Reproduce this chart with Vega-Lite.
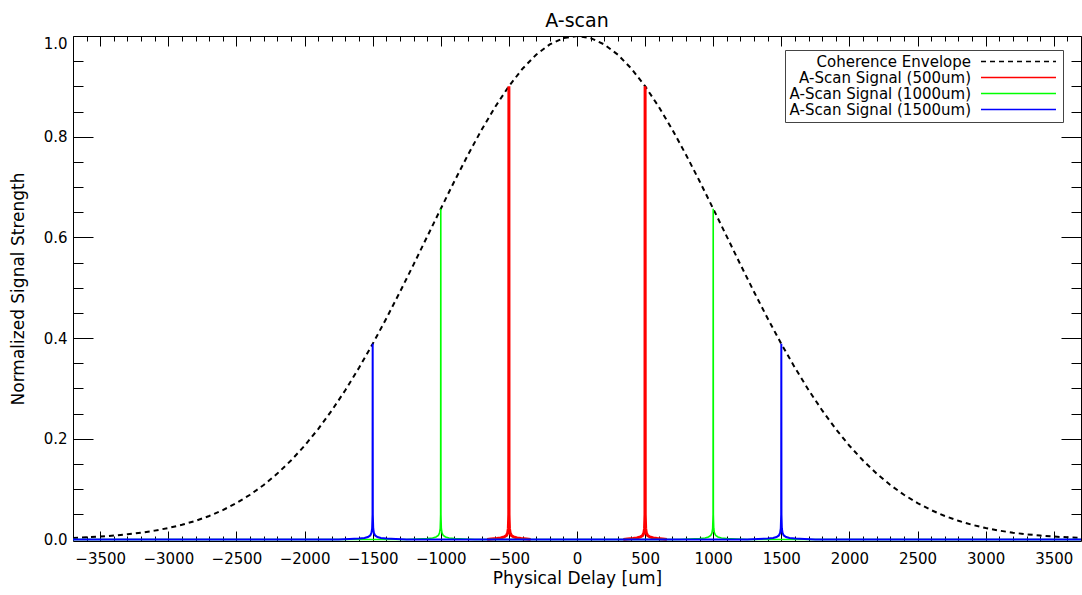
{
  "$schema": "https://vega.github.io/schema/vega-lite/v6.json",
  "width": 1008,
  "height": 505,
  "autosize": "none",
  "padding": {"left": 73, "top": 36, "right": 1, "bottom": 54},
  "background": "white",
  "title": {"text": "A-scan", "fontSize": 19, "font": "DejaVu Sans", "fontWeight": "normal", "color": "black", "anchor": "middle", "offset": 5},
  "config": {
    "view": {"stroke": null},
    "axis": {"domainColor": "black", "tickColor": "black", "labelColor": "black", "titleColor": "black", "labelFont": "DejaVu Sans", "titleFont": "DejaVu Sans", "titleFontWeight": "normal", "labelFontSize": 15, "titleFontSize": 17, "grid": false, "tickWidth": 1, "domainWidth": 1}
  },
  "datasets": {
    "envelope": [
      {"x": -3700, "y": 0.0032}, {"x": -3600, "y": 0.0043}, {"x": -3500, "y": 0.0058}, {"x": -3400, "y": 0.0078}, {"x": -3300, "y": 0.0103},
      {"x": -3200, "y": 0.0135}, {"x": -3100, "y": 0.0176}, {"x": -3000, "y": 0.0228}, {"x": -2900, "y": 0.0292}, {"x": -2800, "y": 0.0371},
      {"x": -2700, "y": 0.0467}, {"x": -2600, "y": 0.0584}, {"x": -2500, "y": 0.0724}, {"x": -2400, "y": 0.0889}, {"x": -2300, "y": 0.1083},
      {"x": -2200, "y": 0.1309}, {"x": -2100, "y": 0.1568}, {"x": -2000, "y": 0.1862}, {"x": -1900, "y": 0.2194}, {"x": -1800, "y": 0.2563},
      {"x": -1700, "y": 0.2969}, {"x": -1600, "y": 0.3411}, {"x": -1500, "y": 0.3885}, {"x": -1400, "y": 0.4389}, {"x": -1300, "y": 0.4916},
      {"x": -1200, "y": 0.546}, {"x": -1100, "y": 0.6015}, {"x": -1000, "y": 0.6569}, {"x": -900, "y": 0.7116}, {"x": -800, "y": 0.7642},
      {"x": -700, "y": 0.8139}, {"x": -600, "y": 0.8596}, {"x": -500, "y": 0.9003}, {"x": -400, "y": 0.935}, {"x": -300, "y": 0.9629},
      {"x": -200, "y": 0.9833}, {"x": -100, "y": 0.9958}, {"x": 0, "y": 1.0}, {"x": 100, "y": 0.9958}, {"x": 200, "y": 0.9833},
      {"x": 300, "y": 0.9629}, {"x": 400, "y": 0.935}, {"x": 500, "y": 0.9003}, {"x": 600, "y": 0.8596}, {"x": 700, "y": 0.8139},
      {"x": 800, "y": 0.7642}, {"x": 900, "y": 0.7116}, {"x": 1000, "y": 0.6569}, {"x": 1100, "y": 0.6015}, {"x": 1200, "y": 0.546},
      {"x": 1300, "y": 0.4916}, {"x": 1400, "y": 0.4389}, {"x": 1500, "y": 0.3885}, {"x": 1600, "y": 0.3411}, {"x": 1700, "y": 0.2969},
      {"x": 1800, "y": 0.2563}, {"x": 1900, "y": 0.2194}, {"x": 2000, "y": 0.1862}, {"x": 2100, "y": 0.1568}, {"x": 2200, "y": 0.1309},
      {"x": 2300, "y": 0.1083}, {"x": 2400, "y": 0.0889}, {"x": 2500, "y": 0.0724}, {"x": 2600, "y": 0.0584}, {"x": 2700, "y": 0.0467},
      {"x": 2800, "y": 0.0371}, {"x": 2900, "y": 0.0292}, {"x": 3000, "y": 0.0228}, {"x": 3100, "y": 0.0176}, {"x": 3200, "y": 0.0135},
      {"x": 3300, "y": 0.0103}, {"x": 3400, "y": 0.0078}, {"x": 3500, "y": 0.0058}, {"x": 3600, "y": 0.0043}, {"x": 3700, "y": 0.0032}
    ],
    "s500": [
      {"x": -660, "y": 0, "p": "L"}, {"x": -630, "y": 0.001, "p": "L"}, {"x": -590, "y": 0.002, "p": "L"}, {"x": -560, "y": 0.003, "p": "L"}, {"x": -535, "y": 0.005, "p": "L"},
      {"x": -518, "y": 0.008, "p": "L"}, {"x": -509, "y": 0.013, "p": "L"}, {"x": -504, "y": 0.022, "p": "L"}, {"x": -502, "y": 0.04, "p": "L"}, {"x": -501, "y": 0.05, "p": "L"},
      {"x": -500, "y": 0.9, "p": "L"},
      {"x": -499, "y": 0.05, "p": "L"}, {"x": -498, "y": 0.04, "p": "L"}, {"x": -496, "y": 0.022, "p": "L"}, {"x": -491, "y": 0.013, "p": "L"}, {"x": -482, "y": 0.008, "p": "L"},
      {"x": -465, "y": 0.005, "p": "L"}, {"x": -440, "y": 0.003, "p": "L"}, {"x": -410, "y": 0.002, "p": "L"}, {"x": -370, "y": 0.001, "p": "L"}, {"x": -340, "y": 0, "p": "L"},
      {"x": 340, "y": 0, "p": "R"}, {"x": 370, "y": 0.001, "p": "R"}, {"x": 410, "y": 0.002, "p": "R"}, {"x": 440, "y": 0.003, "p": "R"}, {"x": 465, "y": 0.005, "p": "R"},
      {"x": 482, "y": 0.008, "p": "R"}, {"x": 491, "y": 0.013, "p": "R"}, {"x": 496, "y": 0.022, "p": "R"}, {"x": 498, "y": 0.04, "p": "R"}, {"x": 499, "y": 0.05, "p": "R"},
      {"x": 500, "y": 0.9, "p": "R"},
      {"x": 501, "y": 0.05, "p": "R"}, {"x": 502, "y": 0.04, "p": "R"}, {"x": 504, "y": 0.022, "p": "R"}, {"x": 509, "y": 0.013, "p": "R"}, {"x": 518, "y": 0.008, "p": "R"},
      {"x": 535, "y": 0.005, "p": "R"}, {"x": 560, "y": 0.003, "p": "R"}, {"x": 590, "y": 0.002, "p": "R"}, {"x": 630, "y": 0.001, "p": "R"}, {"x": 660, "y": 0, "p": "R"}
    ],
    "s1000": [
      {"x": -3700, "y": 0}, {"x": -1250, "y": 0}, {"x": -1170, "y": 0.001}, {"x": -1100, "y": 0.002}, {"x": -1060, "y": 0.003}, {"x": -1035, "y": 0.005},
      {"x": -1018, "y": 0.008}, {"x": -1009, "y": 0.013}, {"x": -1004, "y": 0.022}, {"x": -1002, "y": 0.04}, {"x": -1001, "y": 0.05},
      {"x": -1000, "y": 0.657},
      {"x": -999, "y": 0.05}, {"x": -998, "y": 0.04}, {"x": -996, "y": 0.022}, {"x": -991, "y": 0.013}, {"x": -982, "y": 0.008},
      {"x": -965, "y": 0.005}, {"x": -940, "y": 0.003}, {"x": -900, "y": 0.002}, {"x": -830, "y": 0.001}, {"x": -750, "y": 0},
      {"x": 750, "y": 0}, {"x": 830, "y": 0.001}, {"x": 900, "y": 0.002}, {"x": 940, "y": 0.003}, {"x": 965, "y": 0.005},
      {"x": 982, "y": 0.008}, {"x": 991, "y": 0.013}, {"x": 996, "y": 0.022}, {"x": 998, "y": 0.04}, {"x": 999, "y": 0.05},
      {"x": 1000, "y": 0.657},
      {"x": 1001, "y": 0.05}, {"x": 1002, "y": 0.04}, {"x": 1004, "y": 0.022}, {"x": 1009, "y": 0.013}, {"x": 1018, "y": 0.008},
      {"x": 1035, "y": 0.005}, {"x": 1060, "y": 0.003}, {"x": 1100, "y": 0.002}, {"x": 1170, "y": 0.001}, {"x": 1250, "y": 0}, {"x": 3700, "y": 0}
    ],
    "s1500": [
      {"x": -3700, "y": 0}, {"x": -1750, "y": 0}, {"x": -1670, "y": 0.001}, {"x": -1600, "y": 0.002}, {"x": -1560, "y": 0.003}, {"x": -1535, "y": 0.005},
      {"x": -1518, "y": 0.008}, {"x": -1509, "y": 0.013}, {"x": -1504, "y": 0.022}, {"x": -1502, "y": 0.04}, {"x": -1501, "y": 0.05},
      {"x": -1500, "y": 0.389},
      {"x": -1499, "y": 0.05}, {"x": -1498, "y": 0.04}, {"x": -1496, "y": 0.022}, {"x": -1491, "y": 0.013}, {"x": -1482, "y": 0.008},
      {"x": -1465, "y": 0.005}, {"x": -1440, "y": 0.003}, {"x": -1400, "y": 0.002}, {"x": -1330, "y": 0.001}, {"x": -1250, "y": 0},
      {"x": 1250, "y": 0}, {"x": 1330, "y": 0.001}, {"x": 1400, "y": 0.002}, {"x": 1440, "y": 0.003}, {"x": 1465, "y": 0.005},
      {"x": 1482, "y": 0.008}, {"x": 1491, "y": 0.013}, {"x": 1496, "y": 0.022}, {"x": 1498, "y": 0.04}, {"x": 1499, "y": 0.05},
      {"x": 1500, "y": 0.389},
      {"x": 1501, "y": 0.05}, {"x": 1502, "y": 0.04}, {"x": 1504, "y": 0.022}, {"x": 1509, "y": 0.013}, {"x": 1518, "y": 0.008},
      {"x": 1535, "y": 0.005}, {"x": 1560, "y": 0.003}, {"x": 1600, "y": 0.002}, {"x": 1670, "y": 0.001}, {"x": 1750, "y": 0}, {"x": 3700, "y": 0}
    ]
  },
  "resolve": {"axis": {"x": "independent", "y": "independent"}},
  "layer": [
    {
      "data": {"name": "envelope"},
      "mark": {"type": "line", "clip": true, "strokeWidth": 2, "strokeDash": [5, 4]},
      "encoding": {
        "x": {"field": "x", "type": "quantitative", "scale": {"domain": [-3700, 3700], "nice": false, "zero": false},
          "axis": {"orient": "bottom", "values": [-3500, -3000, -2500, -2000, -1500, -1000, -500, 0, 500, 1000, 1500, 2000, 2500, 3000, 3500], "format": "d", "tickSize": -10, "labelPadding": 20, "labelFlush": false, "title": "Physical Delay [um]", "titlePadding": 4}},
        "y": {"field": "y", "type": "quantitative", "scale": {"domain": [-0.003, 1.0], "nice": false, "zero": false},
          "axis": {"orient": "left", "values": [0, 0.2, 0.4, 0.6, 0.8, 1.0], "format": ".1f", "tickSize": -20, "labelPadding": 26, "labelFlush": 1, "title": "Normalized Signal Strength", "titlePadding": 16}},
        "color": {"datum": "Coherence Envelope", "type": "nominal",
          "scale": {"domain": ["Coherence Envelope", "A-Scan Signal (500um)", "A-Scan Signal (1000um)", "A-Scan Signal (1500um)"], "range": ["black", "#ff0000", "#00ff00", "#0000ff"]},
          "legend": {"orient": "none", "legendX": 712, "legendY": 14, "title": null, "strokeColor": "#444", "fillColor": "white", "padding": 4, "symbolType": "M-7.5,0H7.5", "symbolSize": 100, "rowPadding": -2.5, "labelAlign": "right", "labelOffset": -55, "symbolOffset": 222, "symbolStrokeWidth": 1.4, "labelFont": "DejaVu Sans", "labelFontSize": 15, "labelColor": "black", "labelLimit": 0,
            "encode": {"symbols": {"update": {"stroke": {"signal": "scale('color', datum.value)"}, "fill": {"value": "transparent"}, "opacity": {"value": 1}, "strokeOpacity": {"value": 1}, "strokeDash": {"signal": "datum.value === 'Coherence Envelope' ? [5, 4] : [1, 0]"}}}}}}
      }
    },
    {
      "data": {"name": "s500"},
      "mark": {"type": "line", "clip": true, "strokeWidth": 3},
      "encoding": {
        "x": {"field": "x", "type": "quantitative", "scale": {"domain": [-3700, 3700], "nice": false, "zero": false},
          "axis": {"orient": "bottom", "values": [-3600, -3400, -3300, -3200, -3100, -2900, -2800, -2700, -2600, -2400, -2300, -2200, -2100, -1900, -1800, -1700, -1600, -1400, -1300, -1200, -1100, -900, -800, -700, -600, -400, -300, -200, -100, 100, 200, 300, 400, 600, 700, 800, 900, 1100, 1200, 1300, 1400, 1600, 1700, 1800, 1900, 2100, 2200, 2300, 2400, 2600, 2700, 2800, 2900, 3100, 3200, 3300, 3400, 3600], "tickSize": -5, "labels": false, "domain": false, "title": null}},
        "y": {"field": "y", "type": "quantitative", "scale": {"domain": [-0.003, 1.0], "nice": false, "zero": false},
          "axis": {"orient": "left", "values": [0.05, 0.1, 0.15, 0.25, 0.3, 0.35, 0.45, 0.5, 0.55, 0.65, 0.7, 0.75, 0.85, 0.9, 0.95], "tickSize": -10, "labels": false, "domain": false, "title": null}},
        "detail": {"field": "p", "type": "nominal"},
        "color": {"datum": "A-Scan Signal (500um)", "type": "nominal",
          "scale": {"domain": ["Coherence Envelope", "A-Scan Signal (500um)", "A-Scan Signal (1000um)", "A-Scan Signal (1500um)"], "range": ["black", "#ff0000", "#00ff00", "#0000ff"]}}
      }
    },
    {
      "data": {"name": "s1000"},
      "mark": {"type": "line", "clip": true, "strokeWidth": 1.6},
      "encoding": {
        "x": {"field": "x", "type": "quantitative", "scale": {"domain": [-3700, 3700], "nice": false, "zero": false},
          "axis": {"orient": "top", "values": [-3500, -3000, -2500, -2000, -1500, -1000, -500, 0, 500, 1000, 1500, 2000, 2500, 3000, 3500], "tickSize": -10, "labels": false, "title": null}},
        "y": {"field": "y", "type": "quantitative", "scale": {"domain": [-0.003, 1.0], "nice": false, "zero": false},
          "axis": {"orient": "right", "values": [0, 0.2, 0.4, 0.6, 0.8, 1.0], "tickSize": -20, "labels": false, "title": null}},
        "color": {"datum": "A-Scan Signal (1000um)", "type": "nominal",
          "scale": {"domain": ["Coherence Envelope", "A-Scan Signal (500um)", "A-Scan Signal (1000um)", "A-Scan Signal (1500um)"], "range": ["black", "#ff0000", "#00ff00", "#0000ff"]}}
      }
    },
    {
      "data": {"name": "s1500"},
      "mark": {"type": "line", "clip": true, "strokeWidth": 2},
      "encoding": {
        "x": {"field": "x", "type": "quantitative", "scale": {"domain": [-3700, 3700], "nice": false, "zero": false},
          "axis": {"orient": "top", "values": [-3600, -3400, -3300, -3200, -3100, -2900, -2800, -2700, -2600, -2400, -2300, -2200, -2100, -1900, -1800, -1700, -1600, -1400, -1300, -1200, -1100, -900, -800, -700, -600, -400, -300, -200, -100, 100, 200, 300, 400, 600, 700, 800, 900, 1100, 1200, 1300, 1400, 1600, 1700, 1800, 1900, 2100, 2200, 2300, 2400, 2600, 2700, 2800, 2900, 3100, 3200, 3300, 3400, 3600], "tickSize": -5, "labels": false, "domain": false, "title": null}},
        "y": {"field": "y", "type": "quantitative", "scale": {"domain": [-0.003, 1.0], "nice": false, "zero": false},
          "axis": {"orient": "right", "values": [0.05, 0.1, 0.15, 0.25, 0.3, 0.35, 0.45, 0.5, 0.55, 0.65, 0.7, 0.75, 0.85, 0.9, 0.95], "tickSize": -10, "labels": false, "domain": false, "title": null}},
        "color": {"datum": "A-Scan Signal (1500um)", "type": "nominal",
          "scale": {"domain": ["Coherence Envelope", "A-Scan Signal (500um)", "A-Scan Signal (1000um)", "A-Scan Signal (1500um)"], "range": ["black", "#ff0000", "#00ff00", "#0000ff"]}}
      }
    }
  ]
}
